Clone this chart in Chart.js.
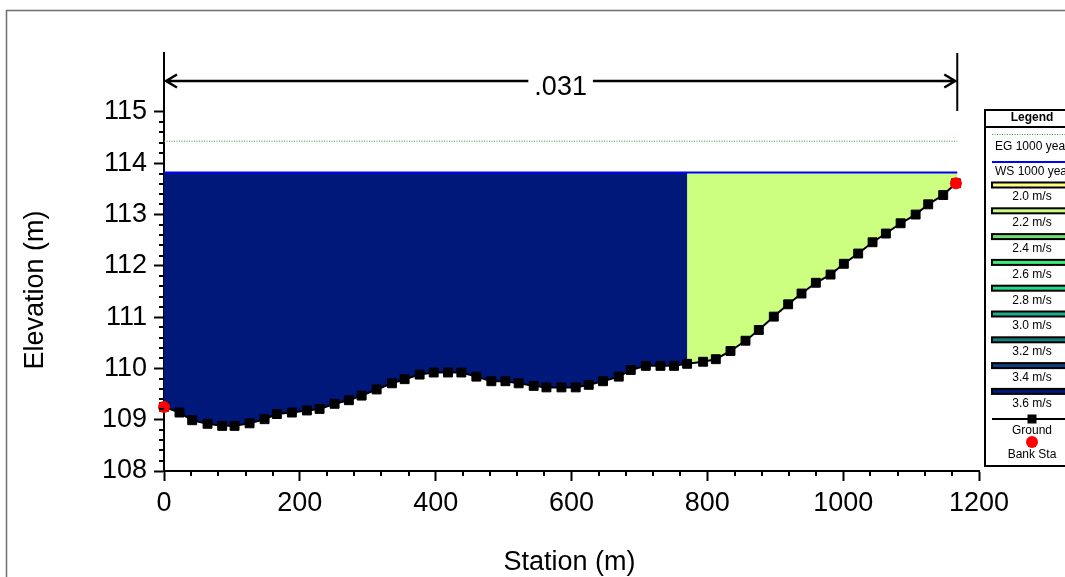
<!DOCTYPE html>
<html><head><meta charset="utf-8">
<script src="https://cdn.jsdelivr.net/npm/chart.js@4.4.1/dist/chart.umd.min.js"></script>
<style>html,body{margin:0;padding:0;background:#fff}canvas{display:block;background:#fff}</style>
</head><body>
<canvas id="c" width="1065" height="577"></canvas>
<script>
// ---- data ----
const groundSta = [0, 22.8, 41.5, 64.1, 85.7, 103.9, 126.0, 148.1, 166.2, 188.3, 210.4, 229.1, 251.2, 272.2, 291.0, 313.1, 335.6, 354.3, 376.4, 397.1, 418.1, 437.8, 459.9, 482.0, 502.7, 522.2, 544.3, 563.1, 585.2, 606.2, 625.4, 646.4, 669.6, 687.3, 709.4, 731.0, 751.0, 770.2, 793.8, 812.5, 834.1, 856.2, 875.8, 897.9, 919.0, 938.7, 959.8, 981.4, 1001.0, 1022.1, 1043.3, 1062.9, 1084.6, 1106.7, 1125.2, 1147.3, 1166.0];
const groundElev = [109.25, 109.14, 108.99, 108.92, 108.88, 108.88, 108.93, 109.01, 109.11, 109.14, 109.18, 109.21, 109.31, 109.38, 109.47, 109.59, 109.71, 109.79, 109.88, 109.92, 109.92, 109.92, 109.84, 109.75, 109.75, 109.71, 109.66, 109.63, 109.63, 109.63, 109.68, 109.75, 109.84, 109.97, 110.05, 110.05, 110.05, 110.09, 110.13, 110.18, 110.34, 110.54, 110.75, 111.01, 111.25, 111.46, 111.67, 111.83, 112.04, 112.24, 112.46, 112.63, 112.83, 113.00, 113.20, 113.38, 113.61];
const bankSta = [0, 1166.0];
const bankElev = [109.25, 113.61];
const wsElev = 113.82;          // WS 1000 year
const egElev = 114.43;          // EG 1000 year
const wsRightSta = 1168;        // right end of water surface
const velSplitSta = 770.2;      // boundary between 3.6 m/s and 2.2 m/s zones
const manningN = '.031';
const manningSta = [0, 1168];
const xTicks = [0, 200, 400, 600, 800, 1000, 1200];
const yTicks = [108, 109, 110, 111, 112, 113, 114, 115];
const velLabels = ['2.0 m/s', '2.2 m/s', '2.4 m/s', '2.6 m/s', '2.8 m/s', '3.0 m/s', '3.2 m/s', '3.4 m/s', '3.6 m/s'];
const velColors = ['#ffff80', '#ccff80', '#72dc72', '#3cee78', '#22dd88', '#20aa88', '#0f8080', '#0d3f80', '#00187a'];
const FONT = '"Liberation Sans", Arial, sans-serif';

// ---- derived shapes ----
const last = groundSta.length - 1;
const splitIdx = groundSta.indexOf(velSplitSta);
const navyPoly = [{x: groundSta[0], y: wsElev}, {x: velSplitSta, y: wsElev}];
for (let i = splitIdx; i >= 0; i--) navyPoly.push({x: groundSta[i], y: groundElev[i]});
const greenPoly = [{x: velSplitSta, y: wsElev}, {x: wsRightSta, y: wsElev}, {x: wsRightSta, y: groundElev[last]}];
for (let i = last; i >= splitIdx; i--) greenPoly.push({x: groundSta[i], y: groundElev[i]});
const groundPts = groundSta.map((s, i) => ({x: s, y: groundElev[i]}));
const bankPts = bankSta.map((s, i) => ({x: s, y: bankElev[i]}));

const extras = {
  id: 'extras',
  beforeDraw(chart) {
    const ctx = chart.ctx;
    ctx.save();
    ctx.strokeStyle = '#6e6e6e'; ctx.lineWidth = 1.5;
    ctx.strokeRect(6.5, 10.5, 1200, 700);
    ctx.restore();
  },
  afterDraw(chart) {
    const ctx = chart.ctx, xs = chart.scales.x, ys = chart.scales.y, ca = chart.chartArea;
    ctx.save();
    ctx.strokeStyle = '#000'; ctx.fillStyle = '#000';
    // minor ticks
    ctx.lineWidth = 2;
    ctx.beginPath();
    for (let v = 0; v <= 1200; v += 40) {
      if (v % 200 === 0) continue;
      const px = Math.round(xs.getPixelForValue(v));
      ctx.moveTo(px, ca.bottom); ctx.lineTo(px, ca.bottom + 5);
    }
    for (let k = 0; k < 35; k++) {
      if (k % 5 === 0) continue;
      const v = 108 + k * 0.2;
      const py = Math.round(ys.getPixelForValue(v));
      ctx.moveTo(ca.left - 5, py); ctx.lineTo(ca.left, py);
    }
    ctx.stroke();
    // Manning's n bracket
    const x0 = xs.getPixelForValue(manningSta[0]), x1 = xs.getPixelForValue(manningSta[1]);
    const top = ca.top, ay = top + 28;
    ctx.lineWidth = 2;
    ctx.beginPath();
    ctx.moveTo(x0, top); ctx.lineTo(x0, top + 58);
    ctx.moveTo(x1, top); ctx.lineTo(x1, top + 58);
    ctx.stroke();
    ctx.font = '27px ' + FONT;
    const mid = (x0 + x1) / 2;
    const tw = ctx.measureText(manningN).width;
    ctx.lineWidth = 2.5;
    ctx.beginPath();
    ctx.moveTo(x0 + 2, ay); ctx.lineTo(mid - tw / 2 - 6, ay);
    ctx.moveTo(mid + tw / 2 + 6, ay); ctx.lineTo(x1 - 2, ay);
    ctx.moveTo(x0 + 13, ay - 6.5); ctx.lineTo(x0 + 2, ay); ctx.lineTo(x0 + 13, ay + 6.5);
    ctx.moveTo(x1 - 13, ay - 6.5); ctx.lineTo(x1 - 2, ay); ctx.lineTo(x1 - 13, ay + 6.5);
    ctx.stroke();
    ctx.textAlign = 'center'; ctx.textBaseline = 'alphabetic';
    ctx.fillText(manningN, mid, ay + 14);
    // axis titles
    ctx.font = '27px ' + FONT;
    ctx.fillText('Station (m)', (ca.left + ca.right) / 2 - 2, 570);
    ctx.save();
    ctx.translate(43, 290); ctx.rotate(-Math.PI / 2);
    ctx.fillText('Elevation (m)', 0, 0);
    ctx.restore();
    // legend
    const lx = 985, ly = 110, lw = 130, lh = 356, cx = 1032;
    ctx.lineWidth = 2; ctx.strokeStyle = '#000';
    ctx.fillStyle = '#fff';
    ctx.fillRect(lx, ly, lw, lh);
    ctx.strokeRect(lx, ly, lw, lh);
    ctx.beginPath(); ctx.moveTo(lx, 127); ctx.lineTo(lx + lw, 127); ctx.stroke();
    ctx.fillStyle = '#000';
    ctx.textAlign = 'center'; ctx.textBaseline = 'middle';
    ctx.font = 'bold 12px ' + FONT;
    ctx.fillText('Legend', cx, 117.5);
    ctx.font = '12px ' + FONT;
    // EG
    ctx.strokeStyle = '#2a9d2a'; ctx.lineWidth = 1; ctx.setLineDash([1, 1.5]);
    ctx.beginPath(); ctx.moveTo(992, 134.5); ctx.lineTo(1070, 134.5); ctx.stroke();
    ctx.setLineDash([]);
    ctx.textAlign = 'left';
    ctx.fillText('EG 1000 year', 995, 147);
    // WS
    ctx.strokeStyle = '#0000ff'; ctx.lineWidth = 2;
    ctx.beginPath(); ctx.moveTo(992, 162); ctx.lineTo(1070, 162); ctx.stroke();
    ctx.fillText('WS 1000 year', 995, 172);
    ctx.textAlign = 'center';
    for (let i = 0; i < velLabels.length; i++) {
      const by = 185 + i * 25.8;
      ctx.fillStyle = '#000';
      ctx.fillRect(991, by - 3.5, 90, 7);
      ctx.fillStyle = velColors[i];
      ctx.fillRect(993, by - 1.5, 90, 3);
      ctx.fillStyle = '#000';
      ctx.fillText(velLabels[i], cx, by + 12);
    }
    // Ground
    ctx.strokeStyle = '#000'; ctx.lineWidth = 2;
    ctx.beginPath(); ctx.moveTo(992, 419); ctx.lineTo(1070, 419); ctx.stroke();
    ctx.fillRect(cx - 4.5, 419 - 4.5, 9, 9);
    ctx.fillText('Ground', cx, 431);
    // Bank
    ctx.fillStyle = '#ff0000';
    ctx.beginPath(); ctx.arc(cx, 442, 6, 0, Math.PI * 2); ctx.fill();
    ctx.fillStyle = '#000';
    ctx.fillText('Bank Sta', cx, 455);
    ctx.restore();
  }
};

new Chart(document.getElementById('c'), {
  type: 'scatter',
  data: {
    datasets: [
      {label: 'Bank Sta', data: bankPts, order: 0, pointStyle: 'circle', pointRadius: 6, pointBackgroundColor: '#ff0000', pointBorderWidth: 0, showLine: false, clip: false},
      {label: 'Ground', data: groundPts, order: 1, showLine: true, borderColor: '#000', borderWidth: 2, pointStyle: 'rect', pointRadius: 6.3, pointBackgroundColor: '#000', pointBorderColor: '#000', pointBorderWidth: 1, clip: false},
      {label: 'WS 1000 year', data: [{x: groundSta[0], y: wsElev}, {x: wsRightSta, y: wsElev}], order: 2, showLine: true, borderColor: '#0000ff', borderWidth: 2, pointRadius: 0},
      {label: 'EG 1000 year', data: [{x: groundSta[0], y: egElev}, {x: wsRightSta, y: egElev}], order: 3, showLine: true, borderColor: '#2a9d2a', borderWidth: 1, borderDash: [1, 1.5], pointRadius: 0},
      {label: '3.6 m/s', data: navyPoly, order: 4, showLine: true, fill: 'shape', backgroundColor: velColors[8], borderColor: velColors[8], borderWidth: 0, pointRadius: 0},
      {label: '2.2 m/s', data: greenPoly, order: 5, showLine: true, fill: 'shape', backgroundColor: velColors[1], borderColor: velColors[1], borderWidth: 0, pointRadius: 0}
    ]
  },
  options: {
    responsive: false, animation: false, devicePixelRatio: 1,
    layout: {padding: {left: 0, top: 53, right: 86, bottom: 0}},
    plugins: {legend: {display: false}, tooltip: {enabled: false}},
    elements: {line: {tension: 0}},
    scales: {
      x: {
        type: 'linear', min: 0, max: 1200,
        afterBuildTicks: s => { s.ticks = xTicks.map(v => ({value: v})); },
        afterFit: s => { s.height = 106; },
        grid: {drawOnChartArea: false, drawTicks: true, tickLength: 10, tickColor: '#000', tickWidth: 2},
        border: {display: true, color: '#000', width: 2},
        ticks: {color: '#000', font: {size: 27, family: FONT}, padding: 6, maxRotation: 0, callback: v => String(v)}
      },
      y: {
        type: 'linear', min: 108, max: 116.15,
        afterBuildTicks: s => { s.ticks = yTicks.map(v => ({value: v})); },
        afterFit: s => { s.width = 164; },
        grid: {drawOnChartArea: false, drawTicks: true, tickLength: 10, tickColor: '#000', tickWidth: 2},
        border: {display: true, color: '#000', width: 2},
        ticks: {color: '#000', font: {size: 27, family: FONT}, padding: 7, callback: v => String(v)}
      }
    }
  },
  plugins: [extras]
});
</script>
</body></html>
